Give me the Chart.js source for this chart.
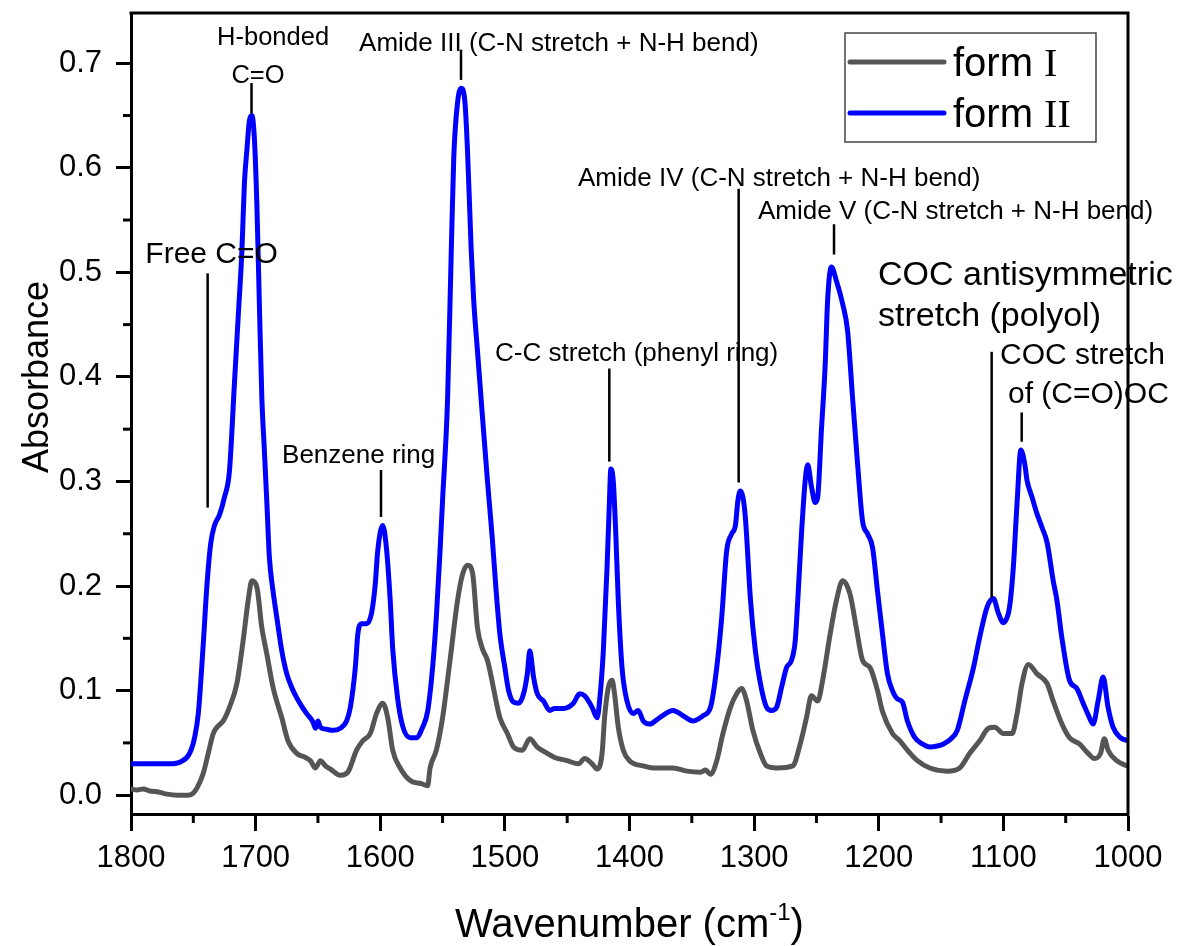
<!doctype html>
<html lang="en">
  <head>
    <meta charset="utf-8">
    <title>FTIR spectra form I / form II</title>
    <style>
      * { margin: 0; padding: 0; }
      body { background: #fff; }
      .chartBox { width: 1178px; height: 946px; }
    </style>
  </head>
  <body>
    <div class="chartBox">
      <canvas id="myChart" width="1178" height="946"></canvas>
    </div>
    <script src="https://cdn.jsdelivr.net/npm/chart.js/dist/chart.umd.min.js"></script>
    <script>
    // setup - spectra (wavenumber in cm-1, absorbance)
    const formIWn = [1800, 1795, 1790, 1785, 1778, 1771, 1763, 1754, 1750, 1747, 1742, 1738, 1734, 1731, 1726, 1721, 1715, 1710, 1706, 1703,
      1699, 1695, 1691, 1686, 1679, 1674, 1667, 1660, 1656, 1652, 1648, 1644, 1640, 1632, 1626, 1619, 1614, 1608, 1603, 1598,
      1594, 1590, 1584, 1576, 1567, 1562, 1560, 1555, 1550, 1544, 1538, 1534, 1530, 1526, 1522, 1518, 1514, 1506, 1504, 1498,
      1493, 1486, 1480, 1474, 1466, 1460, 1450, 1441, 1436, 1430, 1426, 1422, 1420, 1417, 1414, 1412, 1409, 1405, 1400, 1389,
      1381, 1365, 1354, 1343, 1339, 1335, 1330, 1325, 1319, 1314, 1310, 1306, 1301, 1295, 1290, 1282, 1269, 1263, 1258, 1254,
      1249, 1245, 1239, 1234, 1229, 1223, 1218, 1213, 1207, 1201, 1197, 1189, 1183, 1177, 1169, 1159, 1145, 1135, 1127, 1119,
      1112, 1107, 1100, 1093, 1089, 1085, 1080, 1073, 1065, 1060, 1053, 1047, 1039, 1032, 1027, 1022, 1019, 1016, 1009, 1001];
    const formIAbs = [0.006, 0.005, 0.006, 0.004, 0.003, 0.001, 0.000, 0.000, 0.002, 0.007, 0.021, 0.040, 0.059, 0.065, 0.071, 0.084, 0.107, 0.148, 0.186, 0.205,
      0.199, 0.160, 0.135, 0.103, 0.074, 0.052, 0.040, 0.036, 0.033, 0.026, 0.033, 0.028, 0.025, 0.019, 0.022, 0.043, 0.052, 0.059, 0.078, 0.088,
      0.074, 0.043, 0.026, 0.014, 0.011, 0.009, 0.026, 0.043, 0.074, 0.129, 0.186, 0.211, 0.220, 0.213, 0.160, 0.140, 0.129, 0.084, 0.074, 0.059,
      0.046, 0.043, 0.054, 0.046, 0.040, 0.036, 0.033, 0.030, 0.035, 0.030, 0.025, 0.040, 0.074, 0.103, 0.110, 0.097, 0.065, 0.043, 0.033, 0.028,
      0.026, 0.026, 0.023, 0.022, 0.024, 0.020, 0.033, 0.059, 0.084, 0.097, 0.102, 0.090, 0.062, 0.040, 0.028, 0.026, 0.028, 0.049, 0.074, 0.095,
      0.090, 0.110, 0.154, 0.186, 0.205, 0.192, 0.160, 0.129, 0.122, 0.100, 0.080, 0.059, 0.052, 0.043, 0.033, 0.026, 0.023, 0.026, 0.040, 0.052,
      0.064, 0.065, 0.059, 0.059, 0.078, 0.107, 0.125, 0.116, 0.107, 0.090, 0.068, 0.055, 0.049, 0.040, 0.035, 0.040, 0.054, 0.043, 0.033, 0.028];

    const formIIWn = [1800, 1785, 1769, 1760, 1753, 1749, 1746, 1742, 1739, 1736, 1733, 1729, 1725, 1721, 1717, 1714, 1711, 1709, 1707, 1705,
      1703, 1701, 1699, 1697, 1695, 1693, 1691, 1689, 1686, 1683, 1679, 1675, 1671, 1667, 1663, 1659, 1654, 1652, 1650, 1648,
      1643, 1638, 1632, 1627, 1624, 1620, 1618, 1615, 1611, 1607, 1604, 1602, 1598, 1595, 1592, 1590, 1586, 1582, 1576, 1571,
      1566, 1562, 1558, 1555, 1552, 1550, 1546, 1543, 1541, 1538, 1535, 1532, 1530, 1527, 1525, 1522, 1518, 1514, 1510, 1507,
      1504, 1500, 1497, 1493, 1489, 1485, 1482, 1480, 1477, 1474, 1469, 1464, 1460, 1453, 1445, 1440, 1436, 1430, 1426, 1424,
      1421, 1418, 1416, 1415, 1413, 1411, 1409, 1406, 1402, 1397, 1393, 1389, 1384, 1376, 1365, 1357, 1349, 1341, 1335, 1330,
      1326, 1322, 1318, 1315, 1313, 1311, 1309, 1307, 1303, 1299, 1295, 1290, 1286, 1282, 1278, 1274, 1270, 1267, 1265, 1262,
      1259, 1257, 1254, 1251, 1249, 1246, 1243, 1241, 1238, 1234, 1229, 1225, 1221, 1217, 1213, 1209, 1205, 1201, 1197, 1193,
      1189, 1185, 1181, 1177, 1171, 1165, 1159, 1153, 1148, 1142, 1137, 1131, 1124, 1119, 1113, 1108, 1104, 1100, 1097, 1095,
      1092, 1089, 1086, 1083, 1081, 1077, 1073, 1069, 1065, 1060, 1057, 1053, 1047, 1041, 1036, 1032, 1028, 1024, 1020, 1016,
      1012, 1006, 1000];
    const formIIAbs = [0.030, 0.030, 0.030, 0.032, 0.040, 0.055, 0.078, 0.145, 0.202, 0.241, 0.258, 0.268, 0.285, 0.310, 0.394, 0.457, 0.521, 0.585, 0.617, 0.645,
      0.650, 0.628, 0.565, 0.470, 0.380, 0.330, 0.280, 0.228, 0.195, 0.170, 0.138, 0.116, 0.103, 0.093, 0.085, 0.078, 0.070, 0.064, 0.071, 0.065,
      0.063, 0.062, 0.064, 0.071, 0.084, 0.122, 0.154, 0.164, 0.164, 0.174, 0.202, 0.234, 0.258, 0.236, 0.186, 0.140, 0.092, 0.066, 0.055, 0.055,
      0.065, 0.080, 0.122, 0.170, 0.234, 0.282, 0.378, 0.521, 0.610, 0.662, 0.676, 0.662, 0.617, 0.521, 0.473, 0.425, 0.362, 0.301, 0.244, 0.195,
      0.154, 0.122, 0.100, 0.089, 0.088, 0.097, 0.116, 0.138, 0.113, 0.097, 0.090, 0.081, 0.083, 0.083, 0.088, 0.097, 0.095, 0.084, 0.074, 0.090,
      0.138, 0.218, 0.285, 0.312, 0.300, 0.250, 0.186, 0.122, 0.090, 0.078, 0.081, 0.071, 0.068, 0.074, 0.081, 0.076, 0.071, 0.076, 0.084, 0.122,
      0.170, 0.234, 0.250, 0.258, 0.282, 0.291, 0.285, 0.265, 0.188, 0.138, 0.107, 0.084, 0.081, 0.084, 0.103, 0.122, 0.129, 0.148, 0.186, 0.250,
      0.301, 0.316, 0.295, 0.280, 0.285, 0.349, 0.411, 0.474, 0.505, 0.492, 0.470, 0.444, 0.380, 0.317, 0.262, 0.250, 0.237, 0.195, 0.154, 0.116,
      0.100, 0.092, 0.089, 0.071, 0.055, 0.049, 0.046, 0.047, 0.049, 0.054, 0.062, 0.090, 0.122, 0.151, 0.180, 0.188, 0.174, 0.165, 0.170, 0.180,
      0.218, 0.280, 0.330, 0.318, 0.301, 0.285, 0.269, 0.256, 0.242, 0.205, 0.186, 0.150, 0.110, 0.102, 0.088, 0.077, 0.068, 0.090, 0.113, 0.084,
      0.065, 0.055, 0.052];

    const seriesNames = ['form I', 'form II'];
    const xTickValues = [1800, 1700, 1600, 1500, 1400, 1300, 1200, 1100, 1000];
    const xMinorValues = [1750, 1650, 1550, 1450, 1350, 1250, 1150, 1050];
    const yTickValues = [0.0, 0.1, 0.2, 0.3, 0.4, 0.5, 0.6, 0.7];
    const yMinorValues = [0.05, 0.15, 0.25, 0.35, 0.45, 0.55, 0.65];

    // peak marker lines: wavenumber, top and bottom absorbance
    const markWn = [1738.5, 1703.3, 1535.2, 1599.4, 1416.2, 1312.4, 1235.9, 1109.4, 1085.3];
    const markTop = [0.499, 0.681, 0.713, 0.311, 0.408, 0.580, 0.546, 0.424, 0.366];
    const markBottom = [0.275, 0.652, 0.684, 0.266, 0.319, 0.299, 0.517, 0.189, 0.338];

    // band labels: text, anchor wavenumber, baseline absorbance, size, alignment
    const labelText = ['H-bonded', 'C=O', 'Amide III (C-N stretch + N-H bend)', 'Free C=O', 'Benzene ring',
      'C-C stretch (phenyl ring)', 'Amide IV (C-N stretch + N-H bend)', 'Amide V (C-N stretch + N-H bend)',
      'COC antisymmetric', 'stretch (polyol)', 'COC stretch', 'of (C=O)OC'];
    const labelWn = [1686.0, 1698.1, 1617.0, 1788.5, 1678.8, 1507.9, 1441.3, 1296.9, 1200.6, 1200.6, 1102.7, 1096.3];
    const labelAbs = [0.7175, 0.681, 0.712, 0.509, 0.318, 0.415, 0.583, 0.551, 0.488, 0.449, 0.412, 0.375];
    const labelSize = [25.5, 25.5, 26, 30, 26, 26, 26, 26, 34, 34, 30, 30];
    const labelAlign = ['center', 'center', 'left', 'left', 'left', 'left', 'left', 'left', 'left', 'left', 'left', 'left'];

    const FONT = "'Liberation Sans', Arial, sans-serif";
    const colors = ['#555555', '#0000ff'];

    const data = {
      datasets: [
        {
          label: seriesNames[0],
          data: formIWn.map((w, i) => ({ x: w, y: formIAbs[i] })),
          borderColor: colors[0],
        },
        {
          label: seriesNames[1],
          data: formIIWn.map((w, i) => ({ x: w, y: formIIAbs[i] })),
          borderColor: colors[1],
        }
      ]
    };
    data.datasets.forEach(ds => {
      ds.borderWidth = 5;
      ds.pointRadius = 0;
      ds.fill = false;
      ds.cubicInterpolationMode = 'monotone';
      ds.borderJoinStyle = 'round';
      ds.borderCapStyle = 'round';
    });

    // band labels + marker lines
    const bandLabels = {
      id: 'bandLabels',
      afterDatasetsDraw(chart) {
        const { ctx, scales: { x, y } } = chart;
        ctx.save();
        ctx.strokeStyle = '#000';
        ctx.lineWidth = 2.5;
        markWn.forEach((w, i) => {
          const px = x.getPixelForValue(w);
          ctx.beginPath();
          ctx.moveTo(px, y.getPixelForValue(markTop[i]));
          ctx.lineTo(px, y.getPixelForValue(markBottom[i]));
          ctx.stroke();
        });
        ctx.fillStyle = '#000';
        ctx.textBaseline = 'alphabetic';
        labelText.forEach((t, i) => {
          ctx.font = labelSize[i] + 'px ' + FONT;
          ctx.textAlign = labelAlign[i];
          ctx.fillText(t, x.getPixelForValue(labelWn[i]), y.getPixelForValue(labelAbs[i]));
        });
        ctx.restore();
      }
    };

    // frame, minor ticks, axis titles, legend
    const frameAndLegend = {
      id: 'frameAndLegend',
      afterDraw(chart) {
        const { ctx, chartArea: { top, bottom, left, right }, scales: { x, y } } = chart;
        ctx.save();
        ctx.strokeStyle = '#000';
        ctx.lineWidth = 3;
        ctx.beginPath();
        ctx.moveTo(left - 1.5, top);
        ctx.lineTo(right, top);
        ctx.lineTo(right, bottom + 1.5);
        ctx.stroke();

        // minor ticks
        xMinorValues.forEach(v => {
          const px = x.getPixelForValue(v);
          ctx.beginPath();
          ctx.moveTo(px, bottom);
          ctx.lineTo(px, bottom + 9);
          ctx.stroke();
        });
        yMinorValues.forEach(v => {
          const py = y.getPixelForValue(v);
          ctx.beginPath();
          ctx.moveTo(left, py);
          ctx.lineTo(left - 8, py);
          ctx.stroke();
        });

        // y title
        ctx.fillStyle = '#000';
        ctx.save();
        ctx.translate(38, 377);
        ctx.rotate(-Math.PI / 2);
        ctx.font = '36px ' + FONT;
        ctx.textAlign = 'center';
        ctx.textBaseline = 'middle';
        ctx.fillText('Absorbance', 0, 0);
        ctx.restore();

        // x title with superscript
        const big = '40px ' + FONT, small = '24px ' + FONT;
        const p1 = 'Wavenumber (cm', p2 = '-1', p3 = ')';
        ctx.font = big; const w1 = ctx.measureText(p1).width, w3 = ctx.measureText(p3).width;
        ctx.font = small; const w2 = ctx.measureText(p2).width;
        let tx = (left + right) / 2 - (w1 + w2 + w3) / 2;
        const base = 937;
        ctx.textAlign = 'left';
        ctx.textBaseline = 'alphabetic';
        ctx.font = big; ctx.fillText(p1, tx, base); tx += w1;
        ctx.font = small; ctx.fillText(p2, tx, base - 17); tx += w2;
        ctx.font = big; ctx.fillText(p3, tx, base);

        // legend
        ctx.lineWidth = 1.5;
        ctx.strokeStyle = '#444';
        ctx.strokeRect(845, 33, 251, 109);
        chart.data.datasets.forEach((ds, i) => {
          const ly = 62 + i * 51;
          ctx.strokeStyle = ds.borderColor;
          ctx.lineWidth = 5;
          ctx.lineCap = 'round';
          ctx.beginPath();
          ctx.moveTo(850, ly);
          ctx.lineTo(944, ly);
          ctx.stroke();
          const parts = ds.label.split(' ');
          ctx.fillStyle = '#000';
          ctx.font = '40px ' + FONT;
          ctx.fillText(parts[0] + ' ', 953, ly + 14);
          const wf = ctx.measureText(parts[0] + ' ').width;
          ctx.font = '40px "Liberation Serif", serif';
          ctx.fillText(parts[1], 953 + wf, ly + 14);
        });
        ctx.restore();
      }
    };

    const noEdgePadding = s => {
      s.paddingTop = 0;
      s.paddingBottom = 0;
      s.paddingLeft = 0;
      s.paddingRight = 0;
    };

    const config = {
      type: 'line',
      data,
      options: {
        responsive: false,
        animation: false,
        layout: { padding: { top: 13, right: 50, bottom: 0, left: 0 } },
        scales: {
          x: {
            type: 'linear',
            reverse: true,
            min: 1000,
            max: 1800,
            afterBuildTicks: s => { s.ticks = xTickValues.map(v => ({ value: v })); },
            afterFit: s => { s.height = 132; noEdgePadding(s); },
            grid: { drawOnChartArea: false, drawTicks: true, tickLength: 17, tickWidth: 3, tickColor: '#000' },
            border: { display: true, width: 3, color: '#000' },
            ticks: {
              color: '#000',
              font: { size: 31, family: FONT },
              padding: 9,
              maxRotation: 0,
              autoSkip: false,
              callback: v => String(v)
            }
          },
          y: {
            min: -0.018,
            max: 0.748,
            afterBuildTicks: s => { s.ticks = yTickValues.map(v => ({ value: v })); },
            afterFit: s => { s.width = 131; noEdgePadding(s); },
            grid: { drawOnChartArea: false, drawTicks: true, tickLength: 15, tickWidth: 3, tickColor: '#000' },
            border: { display: true, width: 3, color: '#000' },
            ticks: {
              color: '#000',
              font: { size: 31, family: FONT },
              padding: 14,
              callback: v => Number(v).toFixed(1)
            }
          }
        },
        plugins: {
          legend: { display: false },
          tooltip: { enabled: false }
        }
      },
      plugins: [bandLabels, frameAndLegend]
    };

    const myChart = new Chart(document.getElementById('myChart'), config);
    </script>
  </body>
</html>
